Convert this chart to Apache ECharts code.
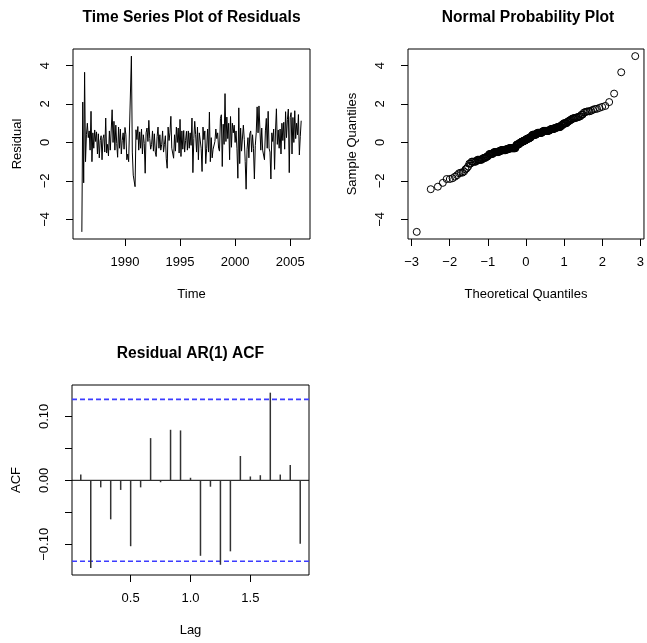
<!DOCTYPE html>
<html>
<head>
<meta charset="utf-8">
<script src="https://cdn.jsdelivr.net/npm/echarts@6/dist/echarts.min.js"></script>
<style>
html,body{margin:0;padding:0;background:#fff;}
#chart{width:647px;height:643px;}
</style>
</head>
<body>
<div id="chart"></div>
<script>
// ---------- DATA ----------
// Monthly residual series, Feb 1986 .. Jan 2006 (240 values)
const tsStart = 1986 + 1 / 12;
const tsFrequency = 12;
const residuals = [
  -4.65, 2.10, -2.10, 3.65, -1.00, 0.40, 1.00, 0.25, 0.60, -0.40, 1.62, -1.00,
  0.50, -0.30, 0.65, 0.05, 0.55, -0.60, 0.45, -0.80, 0.10, 0.35, -0.90, 0.20,
  0.40, -0.50, 1.27, -0.55, -0.10, -0.70, 0.60, -0.40, -0.30, 1.70, 0.00, 1.10,
  -0.40, 0.90, -0.05, -0.77, 0.80, -0.30, 0.70, -0.60, 0.10, 0.50, -0.35, 0.78,
  0.40, -0.90, -0.60, -1.00, -0.90, -0.95, 4.49, -0.50, -1.70, -1.78, -2.30, 0.66,
  0.15, 0.83, -0.40, 0.55, -0.30, 0.70, -0.60, 0.40, -0.05, -1.60, 0.50, 0.75,
  0.05, 1.15, 0.20, -0.35, -0.10, 0.60, -0.45, 0.45, -0.50, -0.73, 0.30, 0.80,
  -0.30, 0.40, -0.40, -0.10, 0.60, -0.50, -0.10, 0.35, -0.85, -1.34, 0.80, 0.10,
  0.50, 1.36, -0.30, -0.40, -0.82, 0.40, -0.45, 0.80, 0.00, 0.75, -0.55, 1.20,
  -0.73, 0.60, -0.35, 0.62, -0.50, 0.10, 0.58, -0.40, 0.60, -0.30, 0.50, -0.15,
  1.27, -1.57, 0.20, 1.10, 0.40, -0.50, 0.80, -0.90, 0.50, 0.60, -0.30, -1.51,
  0.80, 0.15, 0.60, -1.10, -0.30, 0.70, -0.50, 1.58, -1.00, 0.25, -0.80, -0.35,
  -0.40, 0.05, 0.70, 0.20, 0.50, -0.30, -0.45, 1.25, 1.44, -1.25, 0.95, -0.10,
  2.54, 0.05, 1.32, 0.20, 1.00, -0.90, 1.35, -0.25, 1.00, 0.50, 0.90, 0.00,
  0.60, -0.30, -1.86, 1.80, -1.10, 0.75, -0.45, -0.40, 0.90, 0.15, -1.00, -2.43,
  -0.35, 0.25, -0.80, 0.45, 0.60, -0.50, 0.40, -0.30, -1.90, -0.15, 0.50, 1.85,
  0.50, 1.90, 0.70, -0.40, 0.75, -0.40, -0.30, -0.90, 0.60, 1.25, -0.30, 1.62,
  -0.30, -0.50, -1.90, 0.50, 0.05, 0.70, -1.40, 0.60, 1.75, -0.10, 0.65, -0.30,
  0.70, -0.60, 1.00, 0.10, 1.05, -0.35, 1.60, 0.25, 1.20, 1.74, -1.57, 1.30,
  1.55, -0.60, 1.30, 0.00, 1.65, 0.20, 1.00, 0.40, 1.45, -0.65, 0.30, 1.13
];
const timeTicks = [1990, 1995, 2000, 2005];
const residualTicks = [-4, -2, 0, 2, 4];
const quantileTicks = [-3, -2, -1, 0, 1, 2, 3];

// Residual ACF (lags in months)
const acfLagMonths = [1, 2, 3, 4, 5, 6, 7, 8, 9, 10, 11, 12, 13, 14, 15, 16, 17, 18, 19, 20, 21, 22, 23];
const acfValues = [0.009, -0.137, -0.011, -0.061, -0.015, -0.103, -0.011, 0.066, -0.003, 0.079, 0.078, 0.004,
                   -0.118, -0.010, -0.132, -0.111, 0.038, 0.006, 0.008, 0.137, 0.009, 0.024, -0.099];
const acfConfLimits = [0.1265, -0.1265];
const lagTicks = [0.5, 1.0, 1.5];
const acfTicks = [-0.10, -0.05, 0.00, 0.05, 0.10];
const acfLabelTicks = [-0.10, 0.00, 0.10];

// ---------- helpers ----------
function qnorm(p) {
  const a = [-3.969683028665376e+01, 2.209460984245205e+02, -2.759285104469687e+02, 1.383577518672690e+02, -3.066479806614716e+01, 2.506628277459239e+00];
  const b = [-5.447609879822406e+01, 1.615858368580409e+02, -1.556989798598866e+02, 6.680131188771972e+01, -1.328068155288572e+01];
  const c = [-7.784894002430293e-03, -3.223964580411365e-01, -2.400758277161838e+00, -2.549732539343734e+00, 4.374664141464968e+00, 2.938163982698783e+00];
  const d = [7.784695709041462e-03, 3.224671290700398e-01, 2.445134137142996e+00, 3.754408661907416e+00];
  const pl = 0.02425, ph = 1 - pl;
  let q, r;
  if (p < pl) {
    q = Math.sqrt(-2 * Math.log(p));
    return (((((c[0]*q+c[1])*q+c[2])*q+c[3])*q+c[4])*q+c[5]) / ((((d[0]*q+d[1])*q+d[2])*q+d[3])*q+1);
  }
  if (p > ph) {
    q = Math.sqrt(-2 * Math.log(1 - p));
    return -(((((c[0]*q+c[1])*q+c[2])*q+c[3])*q+c[4])*q+c[5]) / ((((d[0]*q+d[1])*q+d[2])*q+d[3])*q+1);
  }
  q = p - 0.5; r = q * q;
  return (((((a[0]*r+a[1])*r+a[2])*r+a[3])*r+a[4])*r+a[5])*q / (((((b[0]*r+b[1])*r+b[2])*r+b[3])*r+b[4])*r+1);
}
const minusFmt = v => (v < 0 ? '\u2212' + String(Math.abs(v)) : String(v));
const minusFmt2 = v => { const s = Math.abs(v).toFixed(2); return v < -1e-9 ? '\u2212' + s : s; };

// derived series
const tsData = residuals.map((v, i) => [tsStart + i / tsFrequency, v]);
const n = residuals.length;
const sortedRes = residuals.slice().sort((x, y) => x - y);
const qqData = sortedRes.map((v, i) => [qnorm((i + 1 - 0.5) / n), v]);
const acfData = acfLagMonths.map((m, i) => [m / 12, acfValues[i]]);

// ---------- chart ----------
const FONT = '"Liberation Sans", Arial, Helvetica, sans-serif';
const txt = {color: '#000', fontFamily: FONT, fontSize: 13};

function xAx(gi, min, max, ticks, fmt, name) {
  return {
    gridIndex: gi, type: 'value', min: min, max: max,
    splitLine: {show: false},
    axisLine: {show: false, onZero: false},
    axisTick: {show: true, inside: false, length: 7, customValues: ticks, lineStyle: {color: '#000', width: 1}},
    axisLabel: Object.assign({customValues: ticks, margin: 17, formatter: fmt}, txt),
    name: name, nameLocation: 'middle', nameGap: 49, nameMoveOverlap: false,
    nameTextStyle: Object.assign({}, txt)
  };
}
function yAx(gi, min, max, ticks, labelTicks, fmt, name) {
  return {
    gridIndex: gi, type: 'value', min: min, max: max,
    splitLine: {show: false},
    axisLine: {show: false, onZero: false},
    axisTick: {show: true, inside: false, length: 7, customValues: ticks, lineStyle: {color: '#000', width: 1}},
    axisLabel: Object.assign({customValues: labelTicks, margin: 21, rotate: 90, formatter: fmt}, txt),
    name: name, nameLocation: 'middle', nameGap: 49, nameMoveOverlap: false,
    nameTextStyle: Object.assign({}, txt)
  };
}
const gridStyle = {show: true, borderColor: '#000', borderWidth: 1, backgroundColor: 'rgba(0,0,0,0)', containLabel: false};

const titleStyle = {fill: '#000', fontFamily: FONT, fontSize: 15.6, fontWeight: 'bold', textAlign: 'center', textVerticalAlign: 'middle'};

// horizontal reference line spanning the whole plot region at data value y
function hLineRenderer(stroke, width, dash) {
  return function (params, api) {
    const cs = params.coordSys;
    const py = api.coord([0.5, api.value(0)])[1];
    return {type: 'line', shape: {x1: cs.x, y1: py, x2: cs.x + cs.width, y2: py},
            style: {stroke: stroke, lineWidth: width, lineDash: dash}};
  };
}

const chart = echarts.init(document.getElementById('chart'), null, {renderer: 'canvas', width: 647, height: 643});
chart.setOption({
  animation: false,
  backgroundColor: '#fff',
  graphic: [
    {type: 'text', x: 191.5, y: 18, style: Object.assign({text: 'Time Series Plot of Residuals'}, titleStyle)},
    {type: 'text', x: 528, y: 18, style: Object.assign({text: 'Normal Probability Plot'}, titleStyle)},
    {type: 'text', x: 190.5, y: 354, style: Object.assign({text: 'Residual AR(1) ACF'}, titleStyle)}
  ],
  grid: [
    Object.assign({left: 73, top: 49, width: 237, height: 190}, gridStyle),
    Object.assign({left: 408, top: 49, width: 240, height: 190}, gridStyle),
    Object.assign({left: 72, top: 385, width: 237, height: 190}, gridStyle)
  ],
  xAxis: [
    xAx(0, 1985.28, 2006.8, timeTicks, v => String(v), 'Time'),
    xAx(1, -3.094, 3.094, quantileTicks, minusFmt, 'Theoretical Quantiles'),
    xAx(2, 0.01, 1.99, lagTicks, v => v.toFixed(1), 'Lag')
  ],
  yAxis: [
    yAx(0, -5.02, 4.86, residualTicks, residualTicks, minusFmt, 'Residual'),
    yAx(1, -5.02, 4.86, residualTicks, residualTicks, minusFmt, 'Sample Quantiles'),
    yAx(2, -0.148, 0.149, acfTicks, acfLabelTicks, minusFmt2, 'ACF')
  ],
  series: [
    {
      type: 'line', xAxisIndex: 0, yAxisIndex: 0, data: tsData,
      showSymbol: false, symbol: 'none', lineStyle: {color: '#000', width: 1}, clip: true
    },
    {
      type: 'scatter', xAxisIndex: 1, yAxisIndex: 1, data: qqData,
      symbol: 'circle', symbolSize: 7,
      itemStyle: {color: 'rgba(255,255,255,0)', borderColor: '#000', borderWidth: 1, opacity: 1}
    },
    {
      type: 'custom', xAxisIndex: 2, yAxisIndex: 2, data: [[0]],
      encode: {y: 0},
      renderItem: hLineRenderer('#000', 1, null)
    },
    {
      type: 'custom', xAxisIndex: 2, yAxisIndex: 2, data: acfConfLimits.map(v => [v]),
      encode: {y: 0},
      renderItem: hLineRenderer('#3c3cff', 1.6, [5, 3])
    },
    {
      type: 'custom', xAxisIndex: 2, yAxisIndex: 2, data: acfData,
      renderItem: function (params, api) {
        const x = api.value(0), y = api.value(1);
        const p0 = api.coord([x, 0]);
        const p1 = api.coord([x, y]);
        return {type: 'line', shape: {x1: p0[0], y1: p0[1], x2: p1[0], y2: p1[1]},
                style: {stroke: '#333', lineWidth: 1.5}};
      }
    }
  ]
});
</script>
</body>
</html>
